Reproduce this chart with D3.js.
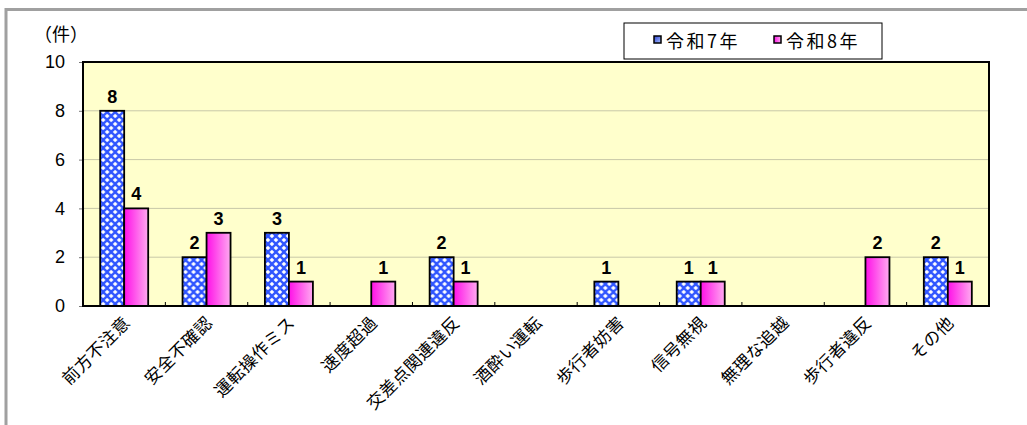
<!DOCTYPE html>
<html>
<head>
<meta charset="utf-8">
<script src="https://cdn.jsdelivr.net/npm/d3@7"></script>
<style>
  html, body { margin: 0; padding: 0; background: #fff; }
  svg { display: block; }
</style>
</head>
<body>
<svg id="chart" width="1027" height="425"></svg>
<script>
// 事故原因別件数（令和7年・令和8年）
const categories = ["前方不注意", "安全不確認", "運転操作ミス", "速度超過", "交差点関連違反",
  "酒酔い運転", "歩行者妨害", "信号無視", "無理な追越", "歩行者違反", "その他"];
const seriesNames = ["令和7年", "令和8年"];
const valuesR7 = [8, 2, 3, 0, 2, 0, 1, 1, 0, 0, 2];
const valuesR8 = [4, 3, 1, 1, 1, 0, 0, 1, 0, 2, 1];
const yTicks = [0, 2, 4, 6, 8, 10];

const svg = d3.select("#chart");
const jp = "'Noto Sans CJK JP', 'Noto Sans', sans-serif";
const num = "'Liberation Sans', Arial, sans-serif";

const plot = { left: 83, top: 62, right: 989, bottom: 306 };

// outer frame
svg.append("rect")
  .attr("x", 6).attr("y", 9.5).attr("width", 1040).attr("height", 440)
  .attr("fill", "none").attr("stroke", "#a0a0a0").attr("stroke-width", 3);

const defs = svg.append("defs");
// blue diamond-lattice fill
const pat = defs.append("pattern").attr("id", "diamonds")
  .attr("patternUnits", "userSpaceOnUse").attr("width", 8).attr("height", 8)
  .attr("x", plot.left).attr("y", 0);
pat.append("rect").attr("width", 8).attr("height", 8).attr("fill", "#2f55ff");
const r = 2.3;
const dia = (cx, cy) => `M${cx},${cy - r}L${cx + r},${cy}L${cx},${cy + r}L${cx - r},${cy}Z`;
pat.append("path").attr("fill", "#ffffff")
  .attr("d", [dia(4, 4), dia(0, 0), dia(8, 0), dia(0, 8), dia(8, 8)].join(""));

// pink horizontal gradient
const pg = defs.append("linearGradient").attr("id", "pinkGrad")
  .attr("x1", "0%").attr("x2", "100%").attr("y1", "0%").attr("y2", "0%");
pg.append("stop").attr("offset", "0%").attr("stop-color", "#ff10e8");
pg.append("stop").attr("offset", "100%").attr("stop-color", "#ffaaf0");

// legend swatch gradient
const bg = defs.append("linearGradient").attr("id", "blueGrad")
  .attr("x1", "0%").attr("x2", "100%").attr("y1", "0%").attr("y2", "100%");
bg.append("stop").attr("offset", "0%").attr("stop-color", "#2c3fd0");
bg.append("stop").attr("offset", "100%").attr("stop-color", "#a9c3ff");

const x0 = d3.scaleBand().domain(categories).range([plot.left, plot.right]).paddingInner(0).paddingOuter(0);
const x1 = d3.scaleBand().domain(seriesNames).range([0, 48]);
const groupOffset = (x0.bandwidth() - 48) / 2;
const y = d3.scaleLinear().domain([0, 10]).range([plot.bottom, plot.top]);

// plot background
svg.append("rect")
  .attr("x", plot.left).attr("y", plot.top)
  .attr("width", plot.right - plot.left).attr("height", plot.bottom - plot.top)
  .attr("fill", "#ffffcc");

// gridlines
svg.append("g").selectAll("line").data(yTicks.filter(d => d > 0 && d < 10)).join("line")
  .attr("x1", plot.left).attr("x2", plot.right)
  .attr("y1", d => y(d)).attr("y2", d => y(d))
  .attr("stroke", "#c8c8a8").attr("stroke-width", 1);

// y axis
const yAxis = d3.axisLeft(y).tickValues(yTicks).tickSize(4).tickPadding(14).tickFormat(d3.format("d"));
const gy = svg.append("g").attr("transform", `translate(${plot.left},0)`).call(yAxis);
gy.select(".domain").remove();
gy.selectAll(".tick line").attr("stroke", "#777");
gy.selectAll(".tick text").attr("font-family", num).attr("font-size", 18).attr("fill", "#000");

// x axis ticks (category boundaries)
const bounds = categories.slice(1).map(c => x0(c));
svg.append("g").selectAll("line").data(bounds).join("line")
  .attr("x1", d => d).attr("x2", d => d)
  .attr("y1", plot.bottom).attr("y2", plot.bottom - 4)
  .attr("stroke", "#000").attr("stroke-width", 1);

// bars
const rows = categories.map((c, i) => ({ c, vals: [valuesR7[i], valuesR8[i]] }));
const fills = ["url(#diamonds)", "url(#pinkGrad)"];
const groups = svg.append("g").selectAll("g").data(rows).join("g")
  .attr("transform", d => `translate(${x0(d.c) + groupOffset},0)`);
groups.selectAll("rect").data(d => d.vals.map((v, k) => ({ v, k })).filter(e => e.v > 0)).join("rect")
  .attr("x", e => x1(seriesNames[e.k]))
  .attr("y", e => y(e.v))
  .attr("width", x1.bandwidth())
  .attr("height", e => y(0) - y(e.v))
  .attr("fill", e => fills[e.k])
  .attr("stroke", "#000").attr("stroke-width", 1.8);

// value labels
groups.selectAll("text").data(d => d.vals.map((v, k) => ({ v, k })).filter(e => e.v > 0)).join("text")
  .attr("x", e => x1(seriesNames[e.k]) + x1.bandwidth() / 2)
  .attr("y", e => y(e.v) - 8)
  .attr("text-anchor", "middle")
  .attr("font-family", num).attr("font-weight", "bold").attr("font-size", 18)
  .text(e => e.v);

// plot border
svg.append("rect")
  .attr("x", plot.left).attr("y", plot.top)
  .attr("width", plot.right - plot.left).attr("height", plot.bottom - plot.top)
  .attr("fill", "none").attr("stroke", "#000").attr("stroke-width", 2);

// category labels
svg.append("g").selectAll("text").data(categories).join("text")
  .attr("transform", c => `translate(${x0(c) + x0.bandwidth() / 2 + 7},${plot.bottom + 18}) rotate(-45)`)
  .attr("text-anchor", "end")
  .attr("font-family", jp).attr("font-size", 17)
  .attr("letter-spacing", 0.5)
  .text(c => c);

// unit label
svg.append("text").attr("x", 34).attr("y", 41)
  .attr("font-family", jp).attr("font-size", 18).text("（件）");

// legend
const lg = svg.append("g");
lg.append("rect").attr("x", 624).attr("y", 23).attr("width", 258).attr("height", 36)
  .attr("fill", "#fff").attr("stroke", "#000").attr("stroke-width", 1);
const legendItems = [
  { name: seriesNames[0], fill: "url(#blueGrad)", x: 654 },
  { name: seriesNames[1], fill: "url(#pinkGrad)", x: 774 }
];
legendItems.forEach(it => {
  lg.append("rect").attr("x", it.x).attr("y", 36).attr("width", 7).attr("height", 7)
    .attr("fill", it.fill).attr("stroke", "#000").attr("stroke-width", 1.5);
  lg.append("text").attr("x", it.x + 12).attr("y", 48)
    .attr("font-family", jp).attr("font-size", 18).attr("letter-spacing", 2.5).text(it.name);
});
</script>
</body>
</html>
